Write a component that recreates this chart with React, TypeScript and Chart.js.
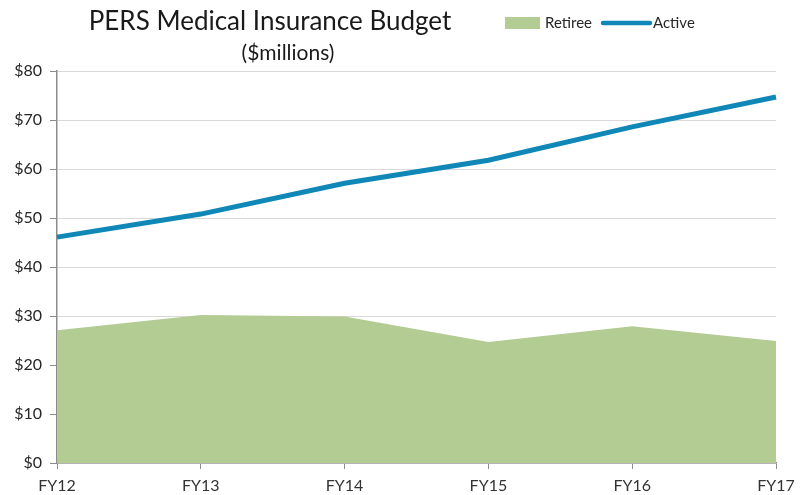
import React, { useEffect, useRef } from "react";
import { Chart, registerables } from "chart.js";

Chart.register(...registerables);

const categories = ["FY12", "FY13", "FY14", "FY15", "FY16", "FY17"];
const retiree = [27.1, 30.2, 29.9, 24.7, 27.9, 24.9];
const active = [46.1, 50.8, 57.1, 61.8, 68.6, 74.7];
const yTicks = [0, 10, 20, 30, 40, 50, 60, 70, 80];
const titleText = "PERS Medical Insurance Budget";
const subtitleText = "($millions)";
const FONT = "Lato, 'Open Sans', sans-serif";

const GREEN = "#b3cc93";
const BLUE = "#0f87b7";

const overlay = {
  id: "overlay",
  afterDraw(chart: any) {
    const ctx = chart.ctx;
    ctx.save();
    ctx.fillStyle = "#1a1a1a";
    ctx.textBaseline = "middle";
    ctx.textAlign = "center";
    ctx.font = `26px ${FONT}`;
    ctx.fillText(titleText, 270, 22);
    ctx.font = `21px ${FONT}`;
    ctx.fillText(subtitleText, 288, 53);
    // legend
    ctx.textAlign = "left";
    ctx.font = `15px ${FONT}`;
    ctx.fillStyle = GREEN;
    ctx.fillRect(505, 17, 35, 12);
    ctx.fillStyle = "#262626";
    ctx.fillText("Retiree", 545, 23);
    ctx.strokeStyle = BLUE;
    ctx.lineWidth = 4.5;
    ctx.lineCap = "round";
    ctx.beginPath();
    ctx.moveTo(603, 23);
    ctx.lineTo(650, 23);
    ctx.stroke();
    ctx.fillStyle = "#262626";
    ctx.fillText("Active", 653, 23);
    ctx.restore();
  },
};

export default function App() {
  const ref = useRef<HTMLCanvasElement>(null);
  useEffect(() => {
    const chart = new Chart(ref.current!, {
      type: "line",
      data: {
        labels: categories,
        datasets: [
          {
            label: "Retiree",
            data: retiree,
            borderWidth: 0,
            borderColor: GREEN,
            backgroundColor: GREEN,
            fill: "origin",
            pointRadius: 0,
            tension: 0,
            order: 2,
          },
          {
            label: "Active",
            data: active,
            borderWidth: 5,
            borderColor: BLUE,
            fill: false,
            pointRadius: 0,
            tension: 0,
            order: 1,
          },
        ],
      },
      options: {
        animation: false,
        responsive: false,
        maintainAspectRatio: false,
        layout: { padding: { top: 71, right: 29, left: 0, bottom: 0 } },
        plugins: {
          legend: { display: false },
          title: { display: false },
          tooltip: { enabled: false },
        },
        scales: {
          x: {
            type: "category",
            offset: false,
            grid: {
              drawOnChartArea: false,
              drawTicks: true,
              tickLength: 6,
              tickColor: "#8c8c8c",
            },
            border: { color: "#8c8c8c", width: 1.5 },
            ticks: {
              color: "#333333",
              font: { family: FONT, size: 16 },
              padding: 7,
              maxRotation: 0,
              autoSkip: false,
            },
            afterFit: (s: any) => {
              s.height = 32;
            },
          },
          y: {
            min: 0,
            max: 80,
            afterBuildTicks: (s: any) => {
              s.ticks = yTicks.map((v) => ({ value: v }));
            },
            grid: {
              color: "#d9d9d9",
              drawTicks: true,
              tickLength: 7,
              tickColor: "#8c8c8c",
            },
            border: { color: "#8c8c8c", width: 1.5 },
            ticks: {
              color: "#262626",
              font: { family: FONT, size: 16 },
              padding: 8,
              callback: (v: any) => "$" + v,
            },
            afterFit: (s: any) => {
              s.width = 57;
            },
          },
        },
      },
      plugins: [overlay],
    });
    return () => chart.destroy();
  }, []);
  return (
    <div style={{ position: "absolute", left: 0, top: 0, width: 805, height: 495, background: "#fff" }}>
      <canvas ref={ref} width={805} height={495} />
    </div>
  );
}
